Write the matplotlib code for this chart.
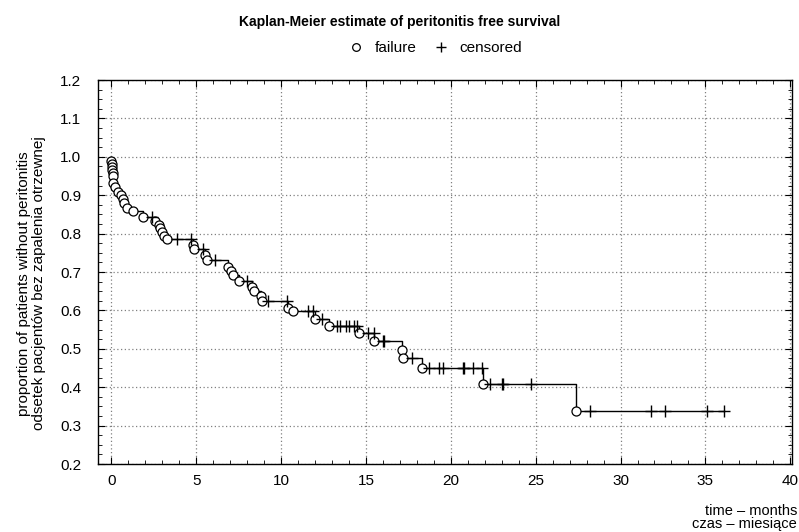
import numpy as np
import matplotlib
matplotlib.use("Agg")
import matplotlib.pyplot as plt
from matplotlib.ticker import MultipleLocator

plt.rcParams["font.family"] = ["Liberation Sans", "DejaVu Sans"]

# failure times (months) and survival right after each failure
fail_t = [0.0, 0.02, 0.04, 0.06, 0.08, 0.1, 0.12, 0.24, 0.41, 0.59, 0.71,
          0.77, 0.94, 1.3, 1.9, 2.6, 2.8, 2.9, 3.0, 3.1, 3.3, 4.8, 4.85,
          5.55, 5.65, 6.9, 7.05, 7.2, 7.55, 8.3, 8.4, 8.8, 8.9, 10.4, 10.7,
          12.0, 12.8, 14.6, 15.5, 17.1, 17.2, 18.3, 21.9, 27.4]
fail_s = [0.99, 0.982, 0.974, 0.966, 0.958, 0.95, 0.932, 0.922, 0.909, 0.901,
          0.891, 0.880, 0.867, 0.859, 0.844, 0.833, 0.823, 0.815, 0.805, 0.794,
          0.786, 0.771, 0.760, 0.745, 0.732, 0.714, 0.703, 0.693, 0.677, 0.661,
          0.651, 0.638, 0.625, 0.607, 0.598, 0.578, 0.560, 0.542, 0.521, 0.497,
          0.477, 0.451, 0.409, 0.339]
# censored times (months)
cens_t = [2.4, 3.9, 4.7, 5.4, 6.1, 8.0, 9.25, 10.35, 11.6, 11.9, 12.4,
          13.3, 13.5, 13.8, 14.0, 14.3, 14.5, 15.1, 15.45, 16.0, 16.05,
          17.7, 18.7, 19.3, 19.55, 20.7, 20.8, 21.3, 21.85, 22.3, 23.0,
          23.05, 24.7, 28.2, 31.8, 32.6, 35.1, 36.1]

fail_t = np.array(fail_t)
fail_s = np.array(fail_s)
cens_t = np.array(cens_t)

# step curve
step_t = np.concatenate([[0.0], fail_t, [cens_t.max()]])
step_s = np.concatenate([[1.0], fail_s, [fail_s[-1]]])
idx = np.searchsorted(fail_t, cens_t, side="right") - 1
cens_s = np.where(idx >= 0, fail_s[np.clip(idx, 0, None)], 1.0)

fig = plt.figure(figsize=(7.99, 5.32), dpi=100)
ax = fig.add_axes([98 / 799, 1 - 464 / 532, (792 - 98) / 799, (464 - 80) / 532])

ax.step(step_t, step_s, where="post", color="black", lw=1.0, zorder=2)
h_fail, = ax.plot(fail_t, fail_s, "o", ms=6.5, mfc="white", mec="black",
                  mew=0.9, ls="none", zorder=3, label="failure")
h_cens, = ax.plot(cens_t, cens_s, "+", ms=8, color="black", mew=1.0,
                  ls="none", zorder=3, label="censored")

ax.set_xlim(-0.78, 40.1)
ax.set_ylim(0.2, 1.2)
ax.xaxis.set_major_locator(MultipleLocator(5))
ax.xaxis.set_minor_locator(MultipleLocator(1))
ax.yaxis.set_minor_locator(MultipleLocator(0.025))
ax.set_yticks(np.arange(0.2, 1.21, 0.1))
ax.set_yticklabels([f"{v:.1f}" for v in np.arange(0.2, 1.21, 0.1)])
ax.tick_params(which="both", direction="in", top=True, right=True,
               labelsize=11, color="black")
ax.tick_params(which="major", length=5)
ax.tick_params(which="minor", length=3)
ax.tick_params(axis="x", pad=7)
ax.tick_params(axis="y", pad=12)
ax.grid(True, which="major", ls=(0, (1, 2)), color="#808080", lw=0.9)
for sp in ax.spines.values():
    sp.set_linewidth(1.0)

ax.set_ylabel("proportion of patients without peritonitis\n"
              "odsetek pacjentów bez zapalenia otrzewnej", fontsize=11,
              linespacing=1.05)
ax.yaxis.set_label_coords(-52 / 694, 0.47)
fig.text(797 / 799, 1 - 531 / 532, "time \u2013 months\nczas \u2013 miesiące",
         ha="right", va="bottom", fontsize=10.5, linespacing=0.95)

fig.text(0.5, 1 - 22 / 532, "Kaplan-Meier estimate of peritonitis free survival",
         ha="center", va="center", fontsize=10, fontweight="bold")
fig.legend(handles=[h_fail, h_cens], loc="center", ncol=2,
           bbox_to_anchor=(437 / 799, 1 - 48 / 532), frameon=False,
           fontsize=11, handletextpad=0.9, columnspacing=1.3,
           handlelength=0.6, markerscale=0.85, borderpad=0)

fig.savefig("out.png", dpi=100)
